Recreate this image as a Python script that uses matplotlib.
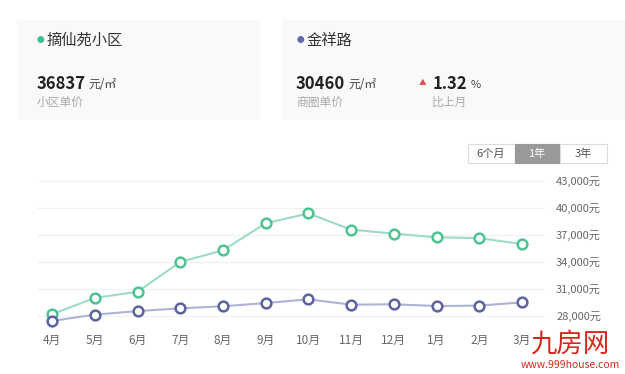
import matplotlib.pyplot as plt
from matplotlib.patches import Rectangle
from matplotlib.ticker import FuncFormatter

plt.rcParams['font.family'] = ['Noto Sans CJK SC', 'DejaVu Sans']

# data
months = ["4月", "5月", "6月", "7月", "8月", "9月", "10月", "11月", "12月", "1月", "2月", "3月"]
community = [28200, 30000, 30700, 34000, 35300, 38300, 39400, 37600, 37150, 36750, 36650, 36000]
district = [27450, 28150, 28550, 28850, 29080, 29440, 29850, 29260, 29300, 29110, 29150, 29520]
yticks = [28000, 31000, 34000, 37000, 40000, 43000]

green_line = "#9edcc0"
green_edge = "#4cc391"
blue_line = "#aeb1d8"
blue_edge = "#5d639f"

W, H = 625, 374
fig = plt.figure(figsize=(W / 100, H / 100), dpi=100)


def px(x, y):
    return x / W, 1 - y / H


def box(x0, y0, x1, y1, **kw):
    fig.patches.append(Rectangle(px(x0, y1), (x1 - x0) / W, (y1 - y0) / H,
                                 transform=fig.transFigure, **kw))


# header cards
box(17, 20, 260, 120, facecolor="#f9f9f9", edgecolor="none")
box(282, 20, 640, 120, facecolor="#f9f9f9", edgecolor="none")

fig.text(*px(40, 40), "●", color="#3fbf8a", fontsize=5.5, ha="center", va="center")
fig.text(*px(47, 40), "摘仙苑小区", color="#333333", fontsize=11, va="center")
n1 = fig.text(*px(37, 84), "36837", color="#222222", fontsize=12, fontweight="bold", va="center")
fig.text(*px(37, 102), "小区单价", color="#aaaaaa", fontsize=8.5, va="center")

fig.text(*px(300, 40), "●", color="#6069ad", fontsize=5.5, ha="center", va="center")
fig.text(*px(307, 40), "金祥路", color="#333333", fontsize=11, va="center")
n2 = fig.text(*px(296, 84), "30460", color="#222222", fontsize=12, fontweight="bold", va="center")
fig.text(*px(296, 102), "商圈单价", color="#aaaaaa", fontsize=8.5, va="center")

fig.text(*px(423, 83), "▲", color="#e0514a", fontsize=5.5, ha="center", va="center")
n3 = fig.text(*px(433, 84), "1.32", color="#222222", fontsize=12, fontweight="bold", va="center")
fig.text(*px(432, 102), "比上月", color="#aaaaaa", fontsize=8.5, va="center")

# units placed just after the numbers
for n, unit, size in [(n1, "元/㎡", 8.5), (n2, "元/㎡", 8.5), (n3, "%", 8)]:
    fig.add_artist(plt.Annotation(unit, xy=(1, 0.5), xycoords=n, xytext=(2, -0.5),
                                  textcoords="offset points", color="#444444",
                                  fontsize=size, va="center", ha="left"))

# period buttons
box(468, 144, 515, 163, facecolor="white", edgecolor="#dddddd", linewidth=0.8)
box(515, 144, 560, 163, facecolor="#999999", edgecolor="#999999", linewidth=0.8)
box(560, 144, 607, 163, facecolor="white", edgecolor="#dddddd", linewidth=0.8)
fig.text(*px(491, 154), "6个月", color="#555555", fontsize=8, ha="center", va="center")
fig.text(*px(537, 154), "1年", color="white", fontsize=8, ha="center", va="center")
fig.text(*px(583, 154), "3年", color="#555555", fontsize=8, ha="center", va="center")

# chart
x = list(range(len(months)))
ax = fig.add_axes([38 / W, 1 - 329.5 / H, (545 - 38) / W, (329.5 - 181) / H])
ax.plot(x, community, color=green_line, linewidth=1.5, marker="o", markersize=7,
        markerfacecolor="white", markeredgecolor=green_edge, markeredgewidth=1.8, zorder=3)
ax.plot(x, district, color=blue_line, linewidth=1.5, marker="o", markersize=7,
        markerfacecolor="white", markeredgecolor=blue_edge, markeredgewidth=1.8, zorder=3)

ax.set_xlim(-0.33, 11.54)
ax.set_ylim(26500, 43000)
ax.set_yticks(yticks)
ax.yaxis.set_major_formatter(FuncFormatter(lambda v, p: "{:,.0f}元".format(v)))
ax.yaxis.tick_right()
ax.set_xticks(x)
ax.set_xticklabels(months)
ax.tick_params(axis="y", length=0, pad=8, labelsize=8, labelcolor="#666666")
ax.tick_params(axis="x", length=0, pad=3, labelsize=8.5, labelcolor="#666666")
ax.grid(axis="y", color="#f0f0f0", linewidth=0.8)
for s in ax.spines.values():
    s.set_visible(False)

# watermark
fig.text(*px(570, 344), "九房网", color="#d8261c", fontsize=19, ha="center", va="center", zorder=10)
fig.text(*px(570, 365), "www.999house.com", color="#d8261c", fontsize=7.5, ha="center", va="center", zorder=10)

fig.savefig("out.png", dpi=100)
